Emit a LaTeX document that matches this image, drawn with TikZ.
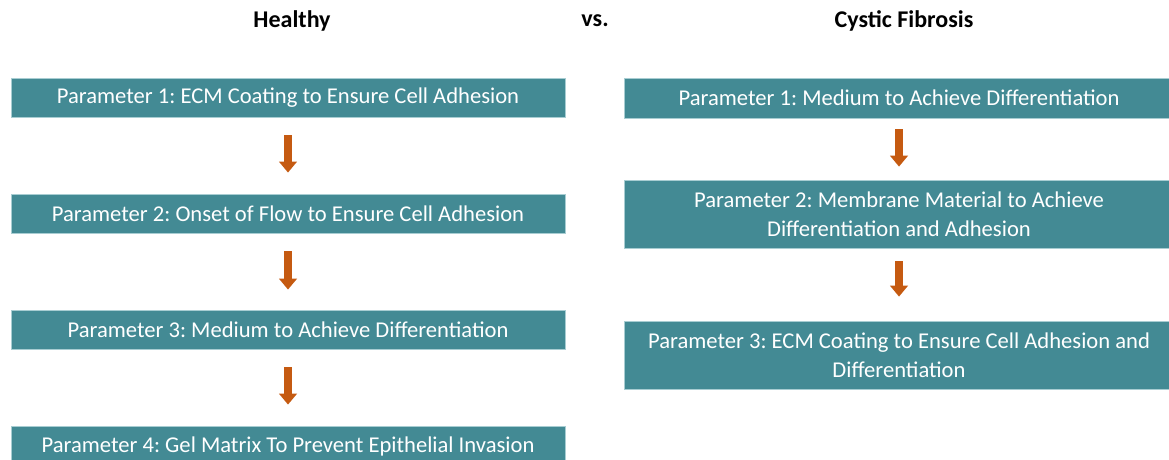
\documentclass[tikz,border=0pt]{standalone}
\usepackage{fontspec}
\setmainfont{Carlito}
\usetikzlibrary{arrows.meta}
\definecolor{boxteal}{HTML}{438A94}
\definecolor{boxedge}{HTML}{A8CDD2}
\definecolor{flowarrow}{HTML}{C55A11}
\tikzset{
  parambox/.style={fill=boxteal, draw=boxedge, line width=0.8pt, text=white,
    align=center, inner sep=0pt, font=\fontsize{22.6}{29}\selectfont},
  headline/.style={font=\fontsize{24}{28}\selectfont\bfseries, text=black},
  flow/.style={draw=flowarrow, line width=8.5pt,
    -{Triangle[width=17.5pt,length=11pt]}, flowarrow},
}
\begin{document}
\frenchspacing
\begin{tikzpicture}[x=1pt,y=-1pt]
  \useasboundingbox (0,0) rectangle (1169,460);

  % column headings
  \node[headline] (hHealthy) at (292,21) {Healthy};
  \node[headline] (hVs) at (595,21) {vs.};
  \node[headline] (hCF) at (904,21) {Cystic Fibrosis};

  % healthy protocol
  \node[parambox, minimum width=554pt, minimum height=39pt] (h1) at (288,97.5)
    {Parameter 1: ECM Coating to Ensure Cell Adhesion};
  \node[parambox, minimum width=554pt, minimum height=39pt] (h2) at (288,213.5)
    {Parameter 2: Onset of Flow to Ensure Cell Adhesion};
  \node[parambox, minimum width=554pt, minimum height=39pt] (h3) at (288,329.5)
    {Parameter 3: Medium to Achieve Differentiation};
  \node[parambox, minimum width=554pt, minimum height=40pt] (h4) at (288,446)
    {Parameter 4: Gel Matrix To Prevent Epithelial Invasion};

  \draw[flow, shorten <=18pt, shorten >=21pt] (h1.south) -- (h2.north);
  \draw[flow, shorten <=18pt, shorten >=20pt] (h2.south) -- (h3.north);
  \draw[flow, shorten <=18pt, shorten >=21pt] (h3.south) -- (h4.north);

  % cystic fibrosis protocol
  \node[parambox, minimum width=550pt, minimum height=40pt] (c1) at (899,98)
    {Parameter 1: Medium to Achieve Differentiation};
  \node[parambox, minimum width=550pt, minimum height=68pt] (c2) at (899,214)
    {Parameter 2: Membrane Material to Achieve\\Differentiation and Adhesion};
  \node[parambox, minimum width=550pt, minimum height=68pt] (c3) at (899,355)
    {Parameter 3: ECM Coating to Ensure Cell Adhesion and\\Differentiation};

  \draw[flow, shorten <=11pt, shorten >=13pt] (c1.south) -- (c2.north);
  \draw[flow, shorten <=13pt, shorten >=24pt] (c2.south) -- (c3.north);
\end{tikzpicture}
\end{document}
